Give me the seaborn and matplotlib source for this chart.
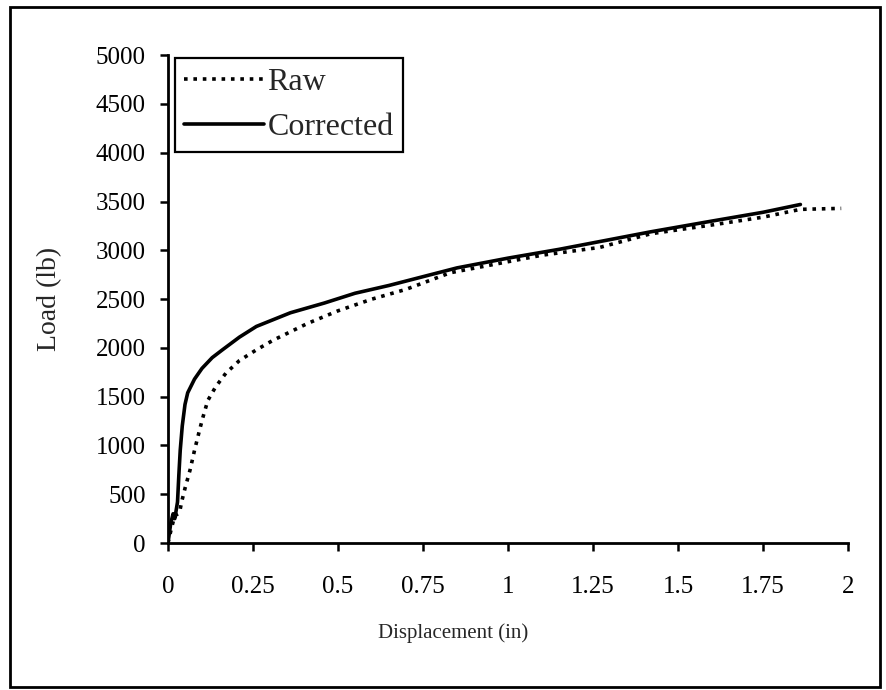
import matplotlib
matplotlib.use("Agg")
import matplotlib.pyplot as plt
import seaborn as sns
import pandas as pd
from matplotlib.patches import Rectangle

# Load-displacement curves
raw_disp = [0, 0.01, 0.02, 0.03, 0.035, 0.04, 0.05, 0.065, 0.078, 0.093, 0.102,
            0.117, 0.14, 0.17, 0.21, 0.26, 0.31, 0.41, 0.5, 0.6, 0.7, 0.83,
            0.98, 1.1, 1.27, 1.42, 1.6, 1.75, 1.86, 1.98]
raw_load = [0, 150, 280, 300, 330, 420, 560, 750, 950, 1160, 1280,
            1460, 1600, 1740, 1870, 1980, 2080, 2250, 2380, 2500, 2600, 2770,
            2870, 2950, 3030, 3170, 3260, 3340, 3420, 3430]

cor_disp = [0, 0.008, 0.015, 0.02, 0.028, 0.032, 0.036, 0.042, 0.05, 0.058,
            0.078, 0.1, 0.13, 0.16, 0.21, 0.26, 0.36, 0.46, 0.55, 0.65, 0.75,
            0.85, 1.0, 1.15, 1.27, 1.42, 1.6, 1.75, 1.86]
cor_load = [0, 200, 300, 250, 420, 700, 950, 1200, 1420, 1540,
            1680, 1790, 1900, 1980, 2110, 2220, 2360, 2460, 2560, 2640, 2730,
            2820, 2920, 3010, 3090, 3190, 3300, 3390, 3470]

x_ticks = [0, 0.25, 0.5, 0.75, 1, 1.25, 1.5, 1.75, 2]
x_labels = ['0', '0.25', '0.5', '0.75', '1', '1.25', '1.5', '1.75', '2']
y_ticks = list(range(0, 5001, 500))

raw = pd.DataFrame({'disp': raw_disp, 'load': raw_load})
cor = pd.DataFrame({'disp': cor_disp, 'load': cor_load})

sns.set_style("ticks")
plt.rcParams['font.family'] = ['Liberation Serif', 'DejaVu Serif']

fig = plt.figure(figsize=(8.86, 6.9), dpi=100)
ax = fig.add_axes([0.1896, 0.213, 0.7675, 0.707])

sns.lineplot(data=raw, x='disp', y='load', ax=ax, color='black', lw=2.6,
             linestyle=(0, (1, 1.6)), sort=False, estimator=None, label='Raw')
sns.lineplot(data=cor, x='disp', y='load', ax=ax, color='black', lw=2.6,
             sort=False, estimator=None, label='Corrected')

ax.set_xlim(0, 2)
ax.set_ylim(0, 5000)
ax.set_xticks(x_ticks)
ax.set_xticklabels(x_labels)
ax.set_yticks(y_ticks)
ax.tick_params(axis='both', direction='out', length=6, width=1.8,
               colors='black', labelsize=18)
ax.tick_params(axis='x', pad=18)
ax.tick_params(axis='y', pad=10)
for s in ['top', 'right']:
    ax.spines[s].set_visible(False)
for s in ['left', 'bottom']:
    ax.spines[s].set_linewidth(2)
    ax.spines[s].set_color('black')

ax.set_xlabel('Displacement (in)', fontsize=15)
ax.xaxis.set_label_coords(0.42, -0.165)
ax.set_ylabel('Load (lb)', fontsize=20)
ax.yaxis.set_label_coords(-0.155, 0.5)

leg = ax.legend(loc='upper left', bbox_to_anchor=(0.01, 0.994), borderaxespad=0,
                fontsize=23, handlelength=2.5, handletextpad=0.1,
                labelspacing=0.5, borderpad=0.3, fancybox=False,
                framealpha=1, edgecolor='black')
leg.get_frame().set_linewidth(1.6)

# outer frame around the whole figure
fig.patches.append(Rectangle((10 / 886, 3 / 690), 870 / 886, 680 / 690,
                             transform=fig.transFigure, fill=False,
                             edgecolor='black', linewidth=2))

fig.savefig('out.png', dpi=100)
